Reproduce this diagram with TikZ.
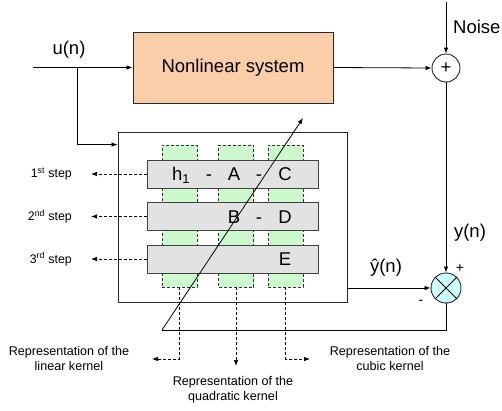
\documentclass[tikz,border=0pt]{standalone}
\usepackage{fontspec}
\setmainfont{Liberation Sans}
\usetikzlibrary{arrows.meta,calc}

\begin{document}
\begin{tikzpicture}[
    x=1pt, y=-1pt,
    every node/.style={inner sep=0pt},
    bigtext/.style={font=\fontsize{18.5}{22}\selectfont},
    entry/.style={bigtext, text height=13.2pt, text depth=0pt},
    smalltext/.style={font=\fontsize{12.6}{15}\selectfont, align=center},
    sysbox/.style={draw=black!85, line width=0.9pt, fill=nlfill, minimum width=200pt, minimum height=71pt},
    kernelcol/.style={draw=black!80, line width=0.7pt, dash pattern=on 3pt off 2pt, fill=colfill, minimum width=35pt, minimum height=142pt},
    steprow/.style={draw=black!75, line width=0.9pt, fill=rowfill, minimum width=171pt, minimum height=28pt},
    sumcircle/.style={circle, draw=black!85, line width=0.9pt, minimum size=28pt},
    sig/.style={-{Latex[length=6pt,width=4.5pt]}, line width=0.8pt},
    dsig/.style={-{Latex[length=6pt,width=4.5pt]}, line width=0.7pt, dash pattern=on 3pt off 2pt},
]

% Colors
\definecolor{nlfill}{RGB}{249,206,168}
\definecolor{rowfill}{RGB}{226,226,226}
\definecolor{colfill}{RGB}{204,250,204}
\definecolor{multfill}{RGB}{204,255,255}

\useasboundingbox (0,0) rectangle (502,410);

% Plant
\node[sysbox, bigtext] (nls) at (233,67.5) {Nonlinear system};
\node[sumcircle, bigtext] (sum) at (446,68) {+};
\coordinate (noisetop) at (446,2);
\node[bigtext, anchor=west] (noiselbl) at (453,27) {Noise};
\coordinate (uin) at (33,67.5);
\node[bigtext] (ulbl) at (69,50) {u(n)};
\coordinate (split) at (77,67.5);

% Identification block
\node[draw=black!85, line width=0.9pt, minimum width=229pt, minimum height=170pt] (est) at (232.5,217) {};
\coordinate (estin) at ($(est.north west)+(0,13)$);

\node[kernelcol] (col1) at (179.5,216) {};
\node[kernelcol] (col2) at (236,216) {};
\node[kernelcol] (col3) at (285.5,216) {};

\node[steprow] (row1) at (232.5,174) {};
\node[steprow] (row2) at (232.5,216.5) {};
\node[steprow] (row3) at (232.5,259) {};

% Kernel entries
\node[entry] (h1) at (181,174) {h\textsubscript{1}};
\node[entry] (d11) at (209,174) {-};
\node[entry] (ka) at (234,174) {A};
\node[entry] (d12) at (259,174) {-};
\node[entry] (kc) at (285,174) {C};
\node[entry] (kb) at (234,216.5) {B};
\node[entry] (d21) at (259,216.5) {-};
\node[entry] (kd) at (285,216.5) {D};
\node[entry] (ke) at (285,259) {E};

% Error block
\node[sumcircle, fill=multfill, minimum size=30pt] (mult) at (446,288) {};
\draw[line width=0.9pt] (mult.north west) -- (mult.south east) (mult.north east) -- (mult.south west);
\node[font=\fontsize{14}{16}\selectfont] (plus) at (460,268) {+};
\node[font=\fontsize{14}{16}\selectfont] (minus) at (421,302) {-};

% Signals
\draw[sig] (uin) -- (nls.west);
\draw[sig] (split) |- (estin);
\draw[sig] (nls.east) -- (sum.west);
\draw[sig] (noisetop) -- (sum.north);
\draw[sig] (sum.south) -- (mult.north);
\node[bigtext] (ylbl) at (470,233) {y(n)};
\draw[sig] (est.east |- mult.west) -- (mult.west);
\node[bigtext] (yhatlbl) at (386,268) {ŷ(n)};
\coordinate (fbend) at (162,330);
\coordinate (adapt) at (303,118);
\draw[line width=0.8pt] (mult.south) |- (fbend);
\draw[sig] (fbend) -- (adapt);

% Steps
\foreach \r/\n/\s in {row1/1/st, row2/2/nd, row3/3/rd}{
    \node[font=\fontsize{12.4}{15}\selectfont, anchor=east] (step\n) at (72,0 |- \r.west) {\n\textsuperscript{\s} step};
    \draw[dsig, shorten >=19pt] (\r.west) -- (step\n.east);
}

% Kernel outputs
\node[smalltext] (linlbl) at (69,358) {Representation of the\\linear kernel};
\node[smalltext] (quadlbl) at (233,390) {Representation of the\\quadratic kernel};
\node[smalltext] (cublbl) at (390,358) {Representation of the\\cubic kernel};
\coordinate (lintip) at (152,359);
\coordinate (quadtip) at (236,366);
\coordinate (cubtip) at (310,359);
\draw[dsig] (col1.south) |- (lintip);
\draw[dsig] (col2.south) -- (quadtip);
\draw[dsig] (col3.south) |- (cubtip);

\end{tikzpicture}
\end{document}
